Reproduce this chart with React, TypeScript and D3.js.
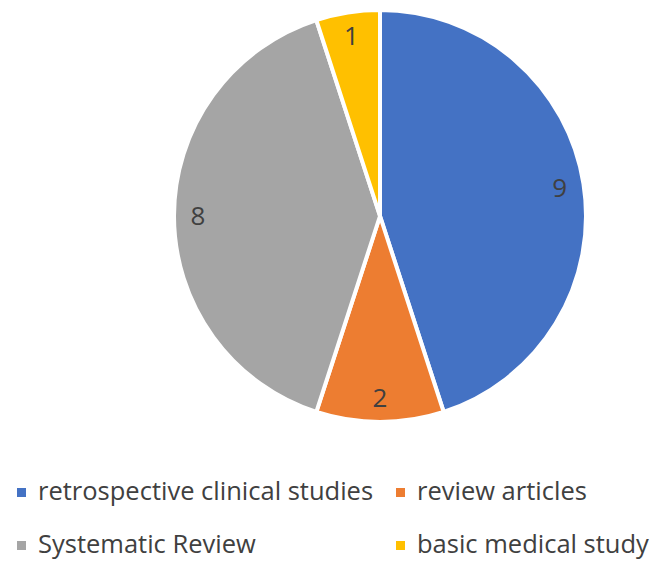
import React from "react";
import * as d3 from "d3";

const categories = ["retrospective clinical studies", "review articles", "Systematic Review", "basic medical study"];
const values = [9, 2, 8, 1];
const colors = ["#4472C4", "#ED7D31", "#A5A5A5", "#FFC000"];

const W = 654, H = 561;
const cx = 380, cy = 216, R = 206;

export default function App() {
  const pie = d3.pie<number>().sort(null).value((d) => d)(values);
  const arc = d3.arc<d3.PieArcDatum<number>>().innerRadius(0).outerRadius(R);
  const labelArc = d3.arc<d3.PieArcDatum<number>>().innerRadius(182).outerRadius(182);
  const legendPos = [
    { x: 17, y: 492 },
    { x: 396, y: 492 },
    { x: 17, y: 545 },
    { x: 396, y: 545 },
  ];
  const font = "'Open Sans', sans-serif";
  return (
    <svg width={W} height={H} style={{ position: "absolute", left: 0, top: 0 }}>
      <rect width={W} height={H} fill="#fff" />
      <g transform={`translate(${cx},${cy})`}>
        {pie.map((p, i) => (
          <path key={i} d={arc(p) || ""} fill={colors[i]} stroke="#fff" strokeWidth={4} strokeLinejoin="round" />
        ))}
        {pie.map((p, i) => {
          const [x, y] = labelArc.centroid(p);
          return (
            <text key={i} x={x} y={y + 9} textAnchor="middle" fontSize={26} fill="#404040" fontFamily={font}>
              {values[i]}
            </text>
          );
        })}
      </g>
      {categories.map((c, i) => (
        <g key={c} transform={`translate(${legendPos[i].x},${legendPos[i].y})`}>
          <rect x={0} y={-4} width={9} height={9} fill={colors[i]} />
          <text x={21} y={8} fontSize={25.5} fill="#404040" fontFamily={font}>
            {c}
          </text>
        </g>
      ))}
    </svg>
  );
}
